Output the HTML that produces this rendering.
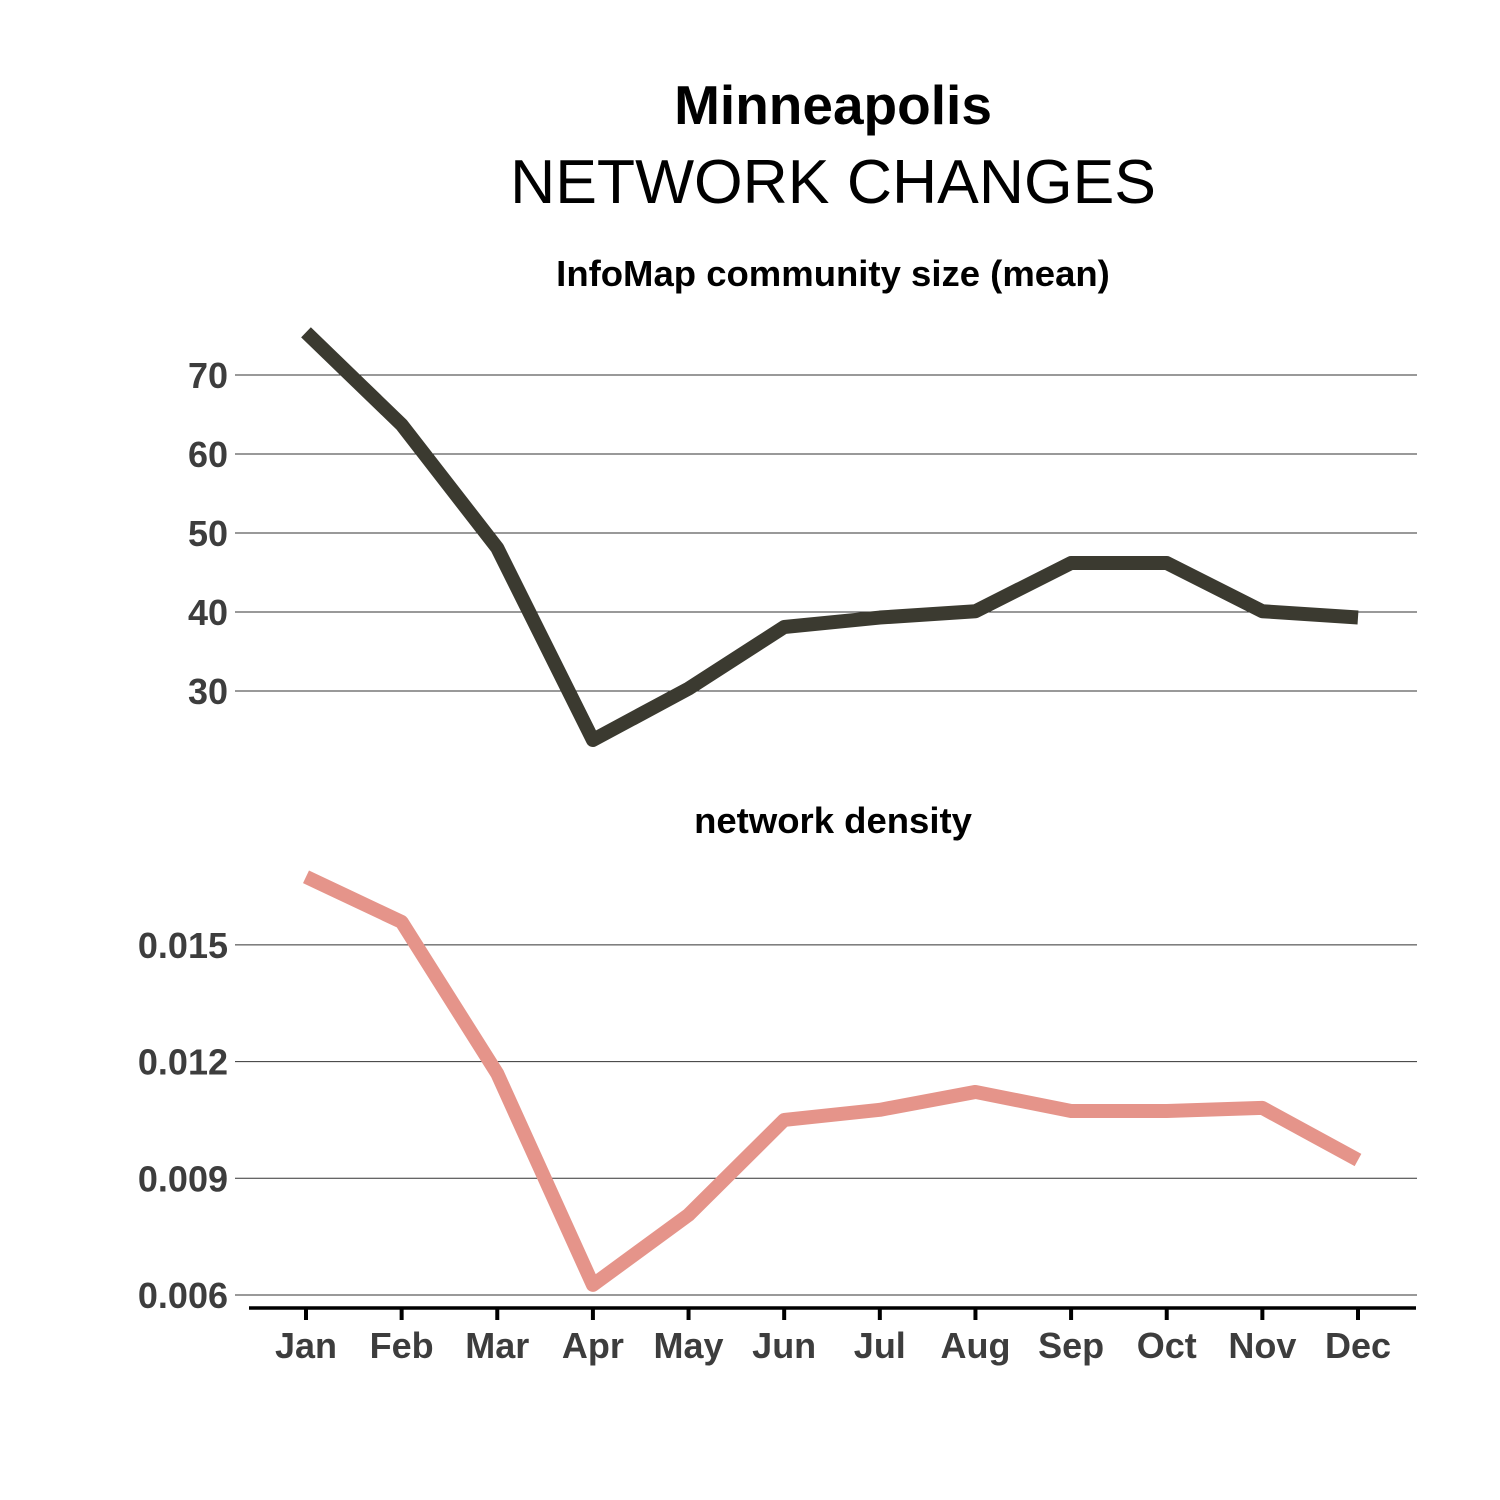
<!DOCTYPE html>
<html><head><meta charset="utf-8"><style>
html,body{margin:0;padding:0;background:#fff;}
svg{display:block;font-family:"Liberation Sans",Arial,sans-serif;}
</style></head><body>
<svg id="chart" width="1500" height="1500" viewBox="0 0 1500 1500" xmlns="http://www.w3.org/2000/svg">
<rect width="1500" height="1500" fill="#fff"/>
<text x="833" y="124" text-anchor="middle" font-size="55" font-weight="bold" fill="#000">Minneapolis</text>
<text x="833" y="203" text-anchor="middle" font-size="62.5" fill="#000">NETWORK CHANGES</text>
<text x="833" y="286" text-anchor="middle" font-size="36.5" font-weight="bold" fill="#000">InfoMap community size (mean)</text>
<text x="833" y="833" text-anchor="middle" font-size="36.5" font-weight="bold" fill="#000">network density</text>
<g id="grid"></g>
<g id="marks"></g>
<g id="axes"></g>
</svg>
<script>
const months = ["Jan","Feb","Mar","Apr","May","Jun","Jul","Aug","Sep","Oct","Nov","Dec"];
const communitySize = [75.4,63.7,48.1,23.8,30.3,38.1,39.3,40.1,46.2,46.2,40.1,39.3];
const density = [0.01675,0.01559,0.01169,0.00626,0.00806,0.0105,0.01076,0.01122,0.01073,0.01073,0.01081,0.00947];
const topTicks = [30,40,50,60,70];
const bottomTicks = [0.006,0.009,0.012,0.015];
const bottomTickLabels = ["0.006","0.009","0.012","0.015"];

const NS = "http://www.w3.org/2000/svg";
function xScale(i){ return 306 + i*(1358-306)/11; }
function yTop(v){ return 375 + (70 - v)*7.9; }
function yBottom(v){ return 1295 - (v - 0.006)/0.003*116.7; }
function mk(tag, attrs, parent){
  const e = document.createElementNS(NS, tag);
  for (const k in attrs) e.setAttribute(k, attrs[k]);
  parent.appendChild(e); return e;
}
const grid = document.getElementById('grid');
const marks = document.getElementById('marks');
const axes = document.getElementById('axes');

topTicks.forEach(t => {
  const y = yTop(t);
  const l = mk('line', {x1:235, x2:1417, y1:y, y2:y, stroke:'#333', 'stroke-width':1}, grid);
  
  
  const tx = mk('text', {x:228, y:y+13, 'text-anchor':'end', 'font-size':36, 'font-weight':'bold', fill:'#3d3d3d'}, axes);
  tx.textContent = String(t);
  
  
});
bottomTicks.forEach((t, i) => {
  const y = yBottom(t);
  const l = mk('line', {x1:235, x2:1417, y1:y, y2:y, stroke:'#333', 'stroke-width':1}, grid);
  
  
  const tx = mk('text', {x:228, y:y+13, 'text-anchor':'end', 'font-size':36, 'font-weight':'bold', fill:'#3d3d3d'}, axes);
  tx.textContent = bottomTickLabels[i];
  
  
});

const p1 = mk('polyline', {points: communitySize.map((v,i)=>xScale(i)+','+yTop(v)).join(' '), fill:'none', stroke:'#3b3a30', 'stroke-width':14, 'stroke-linejoin':'round'}, marks);


const p2 = mk('polyline', {points: density.map((v,i)=>xScale(i)+','+yBottom(v)).join(' '), fill:'none', stroke:'#e5948a', 'stroke-width':14, 'stroke-linejoin':'round'}, marks);



const ax = mk('line', {x1:249, x2:1416, y1:1308, y2:1308, stroke:'#000', 'stroke-width':3.5}, axes);


months.forEach((m, i) => {
  const x = xScale(i);
  const t = mk('line', {x1:x, x2:x, y1:1308, y2:1320, stroke:'#000', 'stroke-width':4}, axes);
  
  
  const tx = mk('text', {x:x, y:1358, 'text-anchor':'middle', 'font-size':36, 'font-weight':'bold', fill:'#3d3d3d'}, axes);
  tx.textContent = m;
  
  
});
</script>
</body></html>
